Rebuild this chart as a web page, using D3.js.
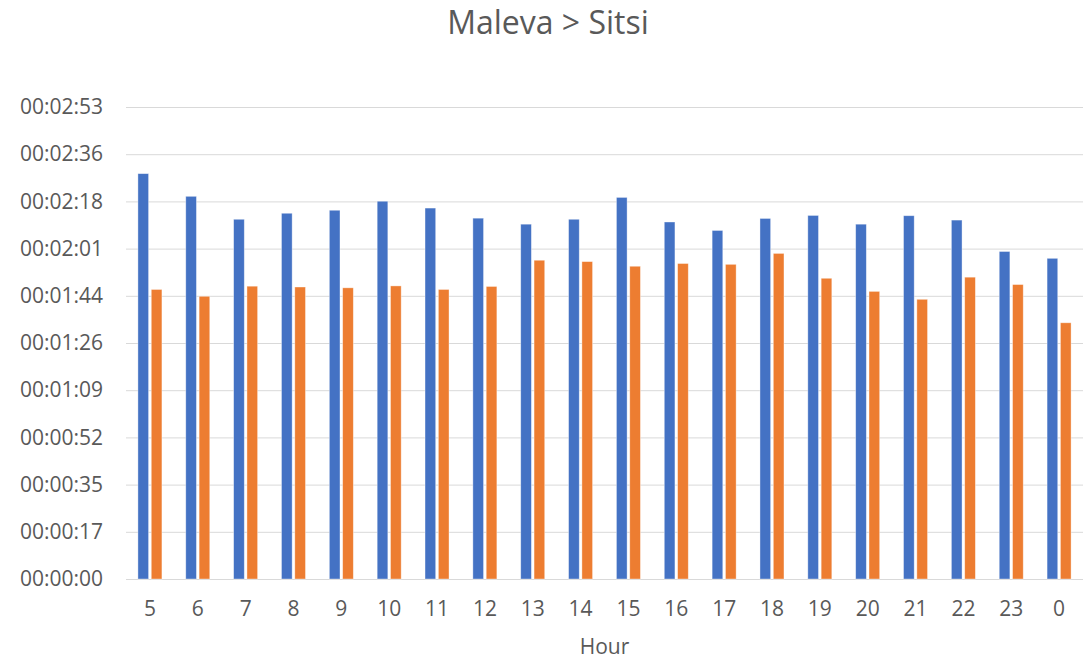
<!DOCTYPE html>
<html>
<head>
<meta charset="utf-8">
<script src="https://cdn.jsdelivr.net/npm/d3@7"></script>
<style>
    body { margin: 0; background: #fff; }
    #chart-area { width: 1089px; height: 659px; }
    .grid line { stroke: #d9d9d9; stroke-width: 1; }
    .axis-label { font-family: "Open Sans", sans-serif; fill: #595959; }
</style>
</head>
<body>
<div id="chart-area"></div>
<script>

// hours on the x axis
var hours = ["5", "6", "7", "8", "9", "10", "11", "12", "13", "14", "15", "16", "17", "18", "19", "20", "21", "22", "23", "0"];

// travel times in seconds
var blueSeries = [148.4, 140.1, 131.7, 133.9, 135.0, 138.3, 135.8, 132.1, 129.9, 131.7,
                  139.7, 130.7, 127.6, 132.0, 133.1, 129.9, 133.0, 131.4, 119.9, 117.4];
var orangeSeries = [106.0, 103.5, 107.2, 106.9, 106.6, 107.3, 106.0, 107.1, 116.7, 116.2,
                    114.5, 115.5, 115.2, 119.2, 110.1, 105.3, 102.4, 110.5, 107.8, 93.8];

var seriesNames = ["blue", "orange"];
var seriesColors = ["#4472C4", "#ED7D31"];

// excel time axis: steps of 0.0002 days = 17.28 s
var yTicks = d3.range(0, 11).map(function(i) { return i * 17.28; });

var chartTitle = "Maleva > Sitsi";
var xTitle = "Hour";


/*
 * BarChart - Object constructor function
 * @param _parentElement 	-- the HTML element in which to draw the visualization
 */

BarChart = function(_parentElement){
    this.parentElement = _parentElement;
    this.initVis();
};


BarChart.prototype.initVis = function(){
    var vis = this;

    vis.margin = { top: 107, right: 6, bottom: 80, left: 126 };
    vis.width = 1089 - vis.margin.left - vis.margin.right;
    vis.height = 659 - vis.margin.top - vis.margin.bottom;

    vis.svg = d3.select("#" + vis.parentElement).append("svg")
        .attr("width", 1089)
        .attr("height", 659);

    vis.g = vis.svg.append("g")
        .attr("transform", "translate(" + vis.margin.left + "," + vis.margin.top + ")");

    vis.x = d3.scaleBand()
        .domain(hours)
        .range([0, vis.width])
        .padding(0);

    // two bars side by side, about 24px wide per hour
    vis.x1 = d3.scaleBand()
        .domain(seriesNames)
        .range([-12, 12])
        .paddingInner(0.2);

    vis.y = d3.scaleLinear()
        .domain([0, 172.8])
        .range([vis.height, 0]);

    // title
    vis.svg.append("text")
        .attr("class", "axis-label")
        .attr("x", 548)
        .attr("y", 34)
        .attr("text-anchor", "middle")
        .style("font-size", "32px")
        .text(chartTitle);

    // x axis title
    vis.svg.append("text")
        .attr("class", "axis-label")
        .attr("x", vis.margin.left + vis.width / 2)
        .attr("y", 654)
        .attr("text-anchor", "middle")
        .style("font-size", "21px")
        .text(xTitle);

    vis.wrangleData();
};


BarChart.prototype.wrangleData = function(){
    var vis = this;

    vis.displayData = hours.map(function(h, i) {
        return { hour: h, values: [
            { key: "blue", value: blueSeries[i] },
            { key: "orange", value: orangeSeries[i] }
        ]};
    });

    vis.updateVis();
};


BarChart.prototype.updateVis = function(){
    var vis = this;

    var fmt = function(s) {
        var t = Math.round(s);
        var m = Math.floor(t / 60), sec = t % 60;
        return "00:" + d3.format("02")(m) + ":" + d3.format("02")(sec);
    };

    // gridlines
    var yGrid = d3.axisLeft(vis.y)
        .tickValues(yTicks)
        .tickSize(-vis.width)
        .tickFormat("");

    vis.g.append("g")
        .attr("class", "grid")
        .call(yGrid)
        .call(function(g) { g.select(".domain").remove(); });

    // y labels
    var yAxis = d3.axisLeft(vis.y)
        .tickValues(yTicks)
        .tickSize(0)
        .tickPadding(23)
        .tickFormat(fmt);

    vis.g.append("g")
        .call(yAxis)
        .call(function(g) {
            g.select(".domain").remove();
            g.selectAll("text")
                .attr("class", "axis-label")
                .style("font-size", "21px")
                .attr("fill", null);
        });

    // x labels
    var xAxis = d3.axisBottom(vis.x)
        .tickSize(0)
        .tickPadding(22);

    vis.g.append("g")
        .attr("transform", "translate(0," + vis.height + ")")
        .call(xAxis)
        .call(function(g) {
            g.select(".domain").remove();
            g.selectAll("text")
                .attr("class", "axis-label")
                .style("font-size", "21px")
                .attr("fill", null);
        });

    // bars
    var groups = vis.g.selectAll(".hour")
        .data(vis.displayData)
        .enter().append("g")
        .attr("class", "hour")
        .attr("transform", function(d) { return "translate(" + (vis.x(d.hour) + vis.x.bandwidth() / 2) + ",0)"; });

    groups.selectAll("rect")
        .data(function(d) { return d.values; })
        .enter().append("rect")
        .attr("x", function(d) { return vis.x1(d.key); })
        .attr("width", vis.x1.bandwidth())
        .attr("y", function(d) { return vis.y(d.value); })
        .attr("height", function(d) { return vis.height - vis.y(d.value); })
        .attr("fill", function(d) { return seriesColors[seriesNames.indexOf(d.key)]; })
        .attr("stroke", "rgba(255,255,255,0.5)")
        .attr("stroke-width", 0.75);
};


var chart = new BarChart("chart-area");

</script>
</body>
</html>
